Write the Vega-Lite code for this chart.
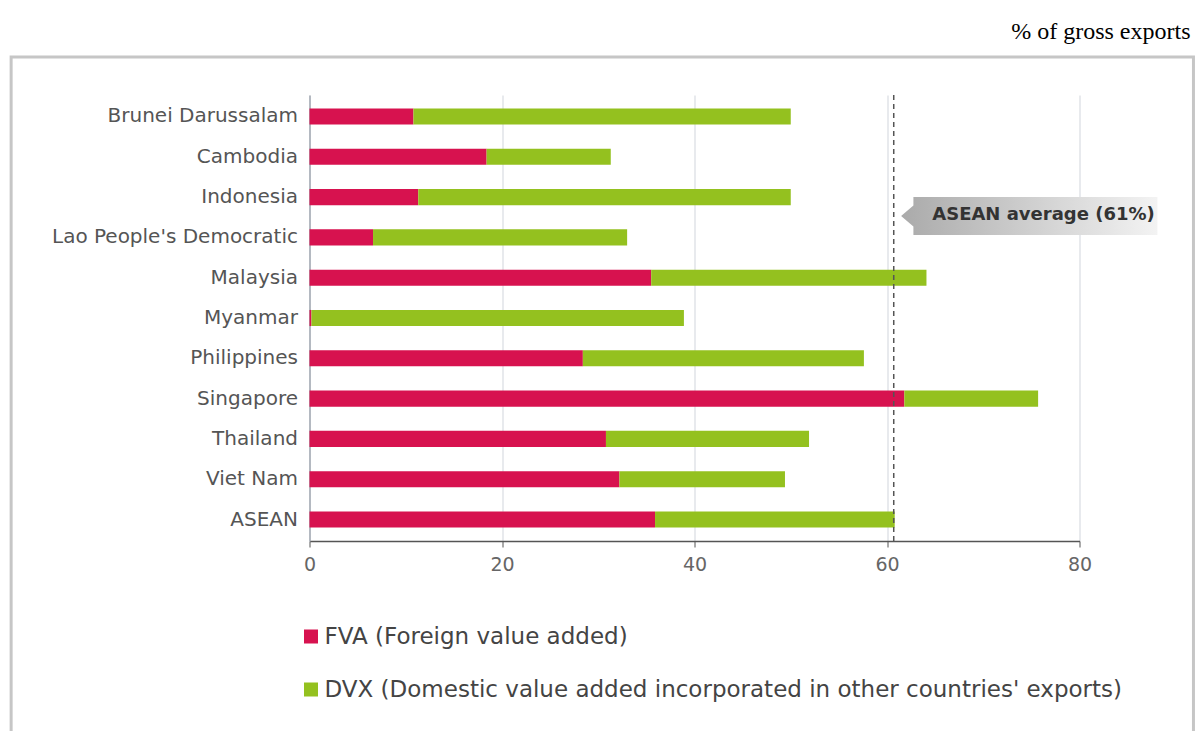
{
  "$schema": "https://vega.github.io/schema/vega-lite/v6.json",
  "width": 770,
  "height": 446,
  "autosize": "none",
  "padding": {"left": 309.5, "top": 95, "right": 121.5, "bottom": 190},
  "background": "white",
  "title": {
    "text": "% of gross exports",
    "font": "Liberation Serif",
    "fontSize": 24,
    "fontWeight": "normal",
    "color": "#000000",
    "anchor": "end",
    "frame": "group",
    "dx": 111,
    "dy": 26,
    "offset": 19,
    "baseline": "alphabetic"
  },
  "config": {
    "view": {"stroke": null},
    "font": "DejaVu Sans"
  },
  "datasets": {
    "bars": [
      {"country": "Brunei Darussalam", "series": "FVA (Foreign value added)", "value": 10.8},
      {"country": "Brunei Darussalam", "series": "DVX (Domestic value added incorporated in other countries' exports)", "value": 39.2},
      {"country": "Cambodia", "series": "FVA (Foreign value added)", "value": 18.4},
      {"country": "Cambodia", "series": "DVX (Domestic value added incorporated in other countries' exports)", "value": 12.9},
      {"country": "Indonesia", "series": "FVA (Foreign value added)", "value": 11.3},
      {"country": "Indonesia", "series": "DVX (Domestic value added incorporated in other countries' exports)", "value": 38.7},
      {"country": "Lao People's Democratic", "series": "FVA (Foreign value added)", "value": 6.6},
      {"country": "Lao People's Democratic", "series": "DVX (Domestic value added incorporated in other countries' exports)", "value": 26.4},
      {"country": "Malaysia", "series": "FVA (Foreign value added)", "value": 35.5},
      {"country": "Malaysia", "series": "DVX (Domestic value added incorporated in other countries' exports)", "value": 28.6},
      {"country": "Myanmar", "series": "FVA (Foreign value added)", "value": 0.2},
      {"country": "Myanmar", "series": "DVX (Domestic value added incorporated in other countries' exports)", "value": 38.7},
      {"country": "Philippines", "series": "FVA (Foreign value added)", "value": 28.4},
      {"country": "Philippines", "series": "DVX (Domestic value added incorporated in other countries' exports)", "value": 29.2},
      {"country": "Singapore", "series": "FVA (Foreign value added)", "value": 61.8},
      {"country": "Singapore", "series": "DVX (Domestic value added incorporated in other countries' exports)", "value": 13.9},
      {"country": "Thailand", "series": "FVA (Foreign value added)", "value": 30.8},
      {"country": "Thailand", "series": "DVX (Domestic value added incorporated in other countries' exports)", "value": 21.1},
      {"country": "Viet Nam", "series": "FVA (Foreign value added)", "value": 32.2},
      {"country": "Viet Nam", "series": "DVX (Domestic value added incorporated in other countries' exports)", "value": 17.2},
      {"country": "ASEAN", "series": "FVA (Foreign value added)", "value": 35.9},
      {"country": "ASEAN", "series": "DVX (Domestic value added incorporated in other countries' exports)", "value": 24.9}
    ],
    "avg": [
      {"label": "ASEAN average (61%)", "average": 60.7, "country": "Indonesia"}
    ]
  },
  "resolve": {"scale": {"y": "independent"}, "axis": {"y": "independent"}},
  "layer": [
    {
      "data": {"values": [{}]},
      "mark": {"type": "rect", "filled": false, "stroke": "#c6c6c6", "strokeWidth": 3},
      "encoding": {
        "x": {"datum": -31.0, "type": "quantitative", "scale": {"domain": [0, 80]}},
        "x2": {"datum": 91.84},
        "y": {"datum": 1.0852, "type": "quantitative", "scale": {"domain": [0, 1], "nice": false, "zero": false}, "axis": null},
        "y2": {"datum": -0.6}
      }
    },
    {
      "layer": [
        {
          "data": {"name": "bars"},
          "mark": {"type": "bar"},
          "encoding": {
            "y": {
              "field": "country",
              "type": "nominal",
              "sort": null,
              "scale": {
                "domain": ["Brunei Darussalam", "Cambodia", "Indonesia", "Lao People's Democratic", "Malaysia", "Myanmar", "Philippines", "Singapore", "Thailand", "Viet Nam", "ASEAN"],
                "paddingInner": 0.6,
                "paddingOuter": 0.333
              },
              "title": null,
              "axis": {
                "ticks": false,
                "domain": true,
                "domainColor": "#a3a8b2",
                "domainWidth": 1.5,
                "labelFont": "DejaVu Sans",
                "labelFontSize": 20,
                "labelColor": "#555555",
                "labelPadding": 12,
                "labelLimit": 400
              }
            },
            "x": {
              "field": "value",
              "type": "quantitative",
              "stack": "zero",
              "scale": {"domain": [0, 80]},
              "title": null,
              "axis": {
                "values": [0, 20, 40, 60, 80],
                "grid": true,
                "gridColor": "#d9dce2",
                "gridWidth": 1.2,
                "domainColor": "#555555",
                "domainWidth": 1.5,
                "tickColor": "#555555",
                "tickSize": 6,
                "labelFlush": false,
                "labelFont": "DejaVu Sans",
                "labelFontSize": 19,
                "labelColor": "#666666",
                "labelPadding": 8
              }
            },
            "color": {
              "field": "series",
              "type": "nominal",
              "scale": {
                "domain": ["FVA (Foreign value added)", "DVX (Domestic value added incorporated in other countries' exports)"],
                "range": ["#d7124f", "#94c11f"]
              },
              "legend": {
                "title": null,
                "orient": "none",
                "legendX": -10,
                "legendY": 530,
                "direction": "vertical",
                "symbolType": "square",
                "symbolSize": 196,
                "symbolStrokeWidth": 0,
                "labelFont": "DejaVu Sans",
                "labelFontSize": 23,
                "labelColor": "#444444",
                "labelOffset": 2,
                "labelLimit": 1000,
                "rowPadding": 29,
                "padding": 0
              }
            },
            "order": {"field": "series", "sort": "descending"}
          }
        },
        {
          "data": {"name": "avg"},
          "mark": {"type": "rule", "color": "#555555", "strokeDash": [5, 4], "strokeWidth": 1.5},
          "encoding": {
            "x": {"field": "average", "type": "quantitative"}
          }
        },
        {
          "data": {"name": "avg"},
          "mark": {
            "type": "point",
            "shape": "M-1,0 L-0.904,-0.082 L-0.904,-0.148 L1,-0.148 L1,0.148 L-0.904,0.148 L-0.904,0.082 Z",
            "size": 65690,
            "filled": true,
            "opacity": 1,
            "strokeWidth": 0,
            "fill": {
              "gradient": "linear",
              "x1": 0, "y1": 0, "x2": 1, "y2": 0,
              "stops": [
                {"offset": 0, "color": "#aaaaaa"},
                {"offset": 0.45, "color": "#cbcbcb"},
                {"offset": 1, "color": "#f3f3f3"}
              ]
            },
            "yOffset": 19
          },
          "encoding": {
            "x": {"datum": 74.78, "type": "quantitative"},
            "y": {"field": "country", "type": "nominal", "sort": null}
          }
        },
        {
          "data": {"name": "avg"},
          "mark": {
            "type": "text",
            "align": "left",
            "baseline": "middle",
            "font": "DejaVu Sans",
            "fontWeight": "bold",
            "fontSize": 18,
            "color": "#333333",
            "dy": 18
          },
          "encoding": {
            "x": {"datum": 64.7, "type": "quantitative"},
            "y": {"field": "country", "type": "nominal", "sort": null},
            "text": {"field": "label"}
          }
        }
      ]
    }
  ]
}
